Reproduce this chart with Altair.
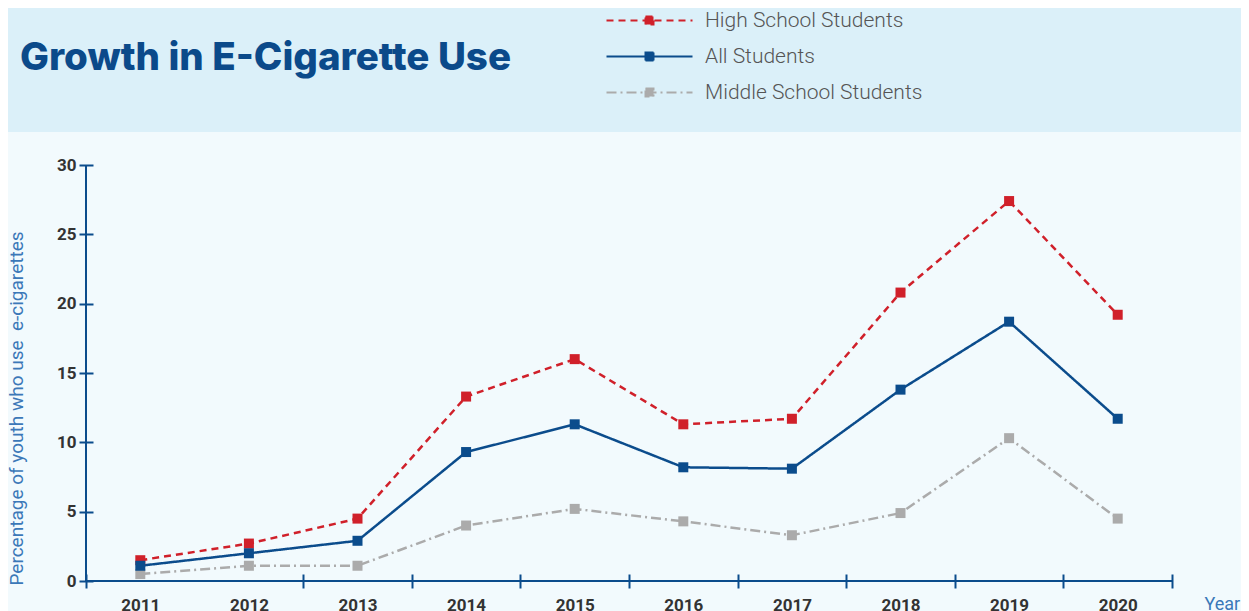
import altair as alt
import pandas as pd

years = ["2011", "2012", "2013", "2014", "2015", "2016", "2017", "2018", "2019", "2020"]
high_school = [1.5, 2.7, 4.5, 13.3, 16.0, 11.3, 11.7, 20.8, 27.4, 19.2]
all_students = [1.1, 2.0, 2.9, 9.3, 11.3, 8.2, 8.1, 13.8, 18.7, 11.7]
middle_school = [0.5, 1.1, 1.1, 4.0, 5.2, 4.3, 3.3, 4.9, 10.3, 4.5]

series_names = ["High School Students", "All Students", "Middle School Students"]
series_colors = ["#d0202a", "#0b4c8c", "#ababab"]
series_dash = [[7, 5], [1, 0], [10, 4, 2, 4]]
y_ticks = [0, 5, 10, 15, 20, 25, 30]

rows = []
for name, vals in [("High School Students", high_school),
                   ("Middle School Students", middle_school),
                   ("All Students", all_students)]:
    for yr, v in zip(years, vals):
        rows.append({"Year": yr, "value": v, "series": name})
df = pd.DataFrame(rows)

W, H = 1086, 416
PL, PT, PR, PB = 78, 157, 69, 30
BLUE = "#0b4c8c"
TITLE_BLUE = "#0b4a8a"
AXIS_TITLE = "#3b78b8"

legend = alt.Legend(
    orient="none", legendX=553, legendY=-155, title=None,
    symbolType="M-8.6,0H8.6M-0.8,-0.8H0.8V0.8H-0.8Z",
    symbolSize=100, symbolStrokeWidth=2,
    labelFont="Roboto", labelFontSize=21, labelFontWeight=300,
    labelColor="#555555", labelOffset=45, labelLimit=0, rowPadding=14,
)

color = alt.Color("series:N", scale=alt.Scale(domain=series_names, range=series_colors), legend=legend)
dash = alt.StrokeDash("series:N", scale=alt.Scale(domain=series_names, range=series_dash), legend=legend)

x_enc = alt.X("Year:O", sort=years,
              scale=alt.Scale(type="band", paddingInner=0, paddingOuter=0),
              axis=alt.Axis(title="Year", titleX=1118, titleY=35, titleAlign="left",
                            titleBaseline="alphabetic", titleFont="Roboto", titleFontSize=18,
                            titleFontWeight="normal", titleColor=AXIS_TITLE,
                            labelAngle=0, labelFont="Roboto", labelFontSize=17,
                            labelFontWeight="bold", labelColor="#333333", labelPadding=9,
                            labelBaseline="top",
                            tickBand="extent", tickSize=14, tickWidth=2, tickColor=BLUE,
                            tickOpacity={"condition": {"test": "datum.value === '2011'", "value": 0}, "value": 1},
                            domain=False, offset=-7, grid=False))
y_enc = alt.Y("value:Q", scale=alt.Scale(domain=[0, 30], nice=False),
              axis=alt.Axis(title="Percentage of youth who use \u00a0e-cigarettes",
                            titleX=-77, titleY=243, titleAngle=-90, titleAlign="center",
                            titleBaseline="middle", titleFont="Roboto", titleFontSize=19,
                            titleFontWeight="normal", titleColor=AXIS_TITLE,
                            values=y_ticks, labelFont="Roboto", labelFontSize=17,
                            labelFontWeight="bold", labelColor="#333333", labelPadding=3,
                            tickSize=14, tickWidth=2, tickColor=BLUE,
                            domain=False, offset=-7, grid=False))

one = alt.Data(values=[{"a": 1}])

header = alt.Chart(one).mark_rect(color="#dbf0f9").encode(
    x=alt.value(-PL), x2=alt.value(W + PR), y=alt.value(-PT), y2=alt.value(-33))
title = alt.Chart(one).mark_text(
    align="left", baseline="alphabetic", font="Inter", fontSize=38.5, fontWeight=800,
    color=TITLE_BLUE).encode(x=alt.value(-66), y=alt.value(-95),
                             text=alt.value("Growth in E-Cigarette Use"))
yline = alt.Chart(one).mark_rule(color=BLUE, strokeWidth=2).encode(
    x=alt.value(0), y=alt.value(0), y2=alt.value(H))
xline = alt.Chart(one).mark_rule(color=BLUE, strokeWidth=2).encode(
    x=alt.value(0), x2=alt.value(W), y=alt.value(H))

lines = alt.Chart(df).mark_line(strokeWidth=2.5).encode(
    x=x_enc, y=y_enc, color=color, strokeDash=dash, detail="series:N")
points = alt.Chart(df).mark_point(shape="square", filled=True, size=100, opacity=1).encode(
    x=x_enc, y=y_enc, color=color)

chart = alt.layer(header, title, yline, xline, lines, points).properties(
    width=W, height=H,
    autosize=alt.AutoSizeParams(type="none"),
    padding={"left": PL, "top": PT, "right": PR, "bottom": PB},
    background="#f2fafd",
).configure_view(stroke=None)

chart.save("out.html", embed_options={"renderer": "svg", "actions": False})
